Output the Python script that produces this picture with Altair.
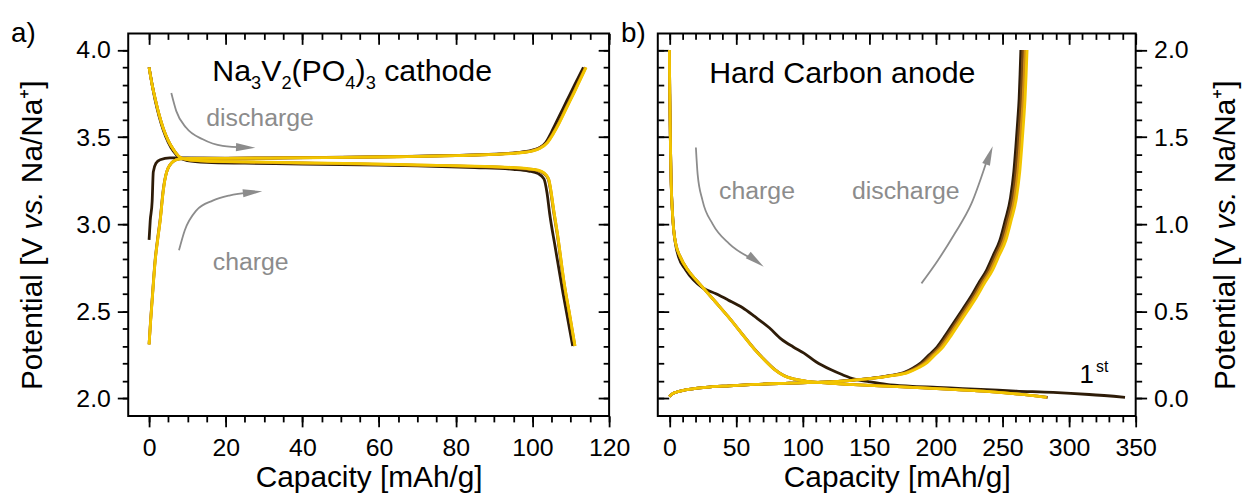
import altair as alt
import pandas as pd

FONT = "Liberation Sans"
GRAY = "#8c8c8c"
CYCLE_COLORS = ["#2e1c08", "#7a4b12", "#d08c14", "#f2c500"]

# ---------------- a) Na3V2(PO4)3 cathode ----------------
cat1_chg_x = [0, 0.3, 0.8, 1.1, 1.8, 2.9, 5.4, 10, 20, 35, 50, 65, 80, 90, 96, 100, 102, 103.5, 105, 107, 109, 111, 113.3]
cat1_chg_y = [2.91, 3.02, 3.13, 3.30, 3.35, 3.37, 3.38, 3.38, 3.378, 3.38, 3.383, 3.388, 3.395, 3.402, 3.41, 3.425, 3.44, 3.47, 3.53, 3.62, 3.71, 3.80, 3.90]
cat1_dis_x = [0, 0.8, 1.6, 2.6, 3.7, 5, 6.3, 8, 10, 15, 25, 40, 55, 70, 85, 95, 99, 101.5, 103, 103.8, 104.5, 106, 108, 110.5]
cat1_dis_y = [3.90, 3.80, 3.71, 3.62, 3.54, 3.47, 3.42, 3.38, 3.365, 3.355, 3.35, 3.345, 3.34, 3.335, 3.325, 3.315, 3.305, 3.29, 3.26, 3.18, 3.06, 2.86, 2.60, 2.30]

cat2_chg_x = [0, 0.4, 0.8, 1.6, 2.3, 2.9, 3.7, 4.6, 6.3, 8, 10, 20, 35, 50, 65, 80, 90, 96, 100, 102, 103.8, 105.3, 106.8, 108.8, 110.8, 112.3, 113.8]
cat2_chg_y = [2.31, 2.45, 2.57, 2.80, 2.93, 3.03, 3.20, 3.30, 3.36, 3.375, 3.378, 3.379, 3.381, 3.384, 3.388, 3.394, 3.401, 3.41, 3.422, 3.44, 3.47, 3.52, 3.58, 3.67, 3.76, 3.83, 3.90]
cat2_dis_x = [0, 0.8, 1.6, 2.6, 3.7, 5, 6.3, 8, 10, 15, 25, 40, 55, 70, 85, 95, 99, 101.5, 103, 104.1, 105.6, 106.4, 108.2, 109.7, 111.0]
cat2_dis_y = [3.90, 3.80, 3.72, 3.63, 3.55, 3.48, 3.43, 3.385, 3.37, 3.361, 3.356, 3.35, 3.345, 3.338, 3.331, 3.322, 3.315, 3.306, 3.29, 3.26, 3.06, 2.95, 2.66, 2.47, 2.30]

cat3_chg_x = [0, 0.4, 0.8, 1.6, 2.3, 2.9, 3.7, 4.6, 6.3, 8, 10, 20, 35, 50, 65, 80, 90, 96, 100, 102, 103.9, 105.4, 106.9, 108.9, 110.9, 112.4, 113.9]
cat3_chg_y = [2.31, 2.44, 2.56, 2.79, 2.92, 3.02, 3.19, 3.30, 3.36, 3.375, 3.378, 3.378, 3.38, 3.383, 3.387, 3.393, 3.40, 3.409, 3.421, 3.437, 3.47, 3.52, 3.58, 3.67, 3.76, 3.83, 3.90]
cat3_dis_x = [0, 0.8, 1.6, 2.6, 3.7, 5, 6.3, 8, 10, 15, 25, 40, 55, 70, 85, 95, 99, 101.5, 103, 104.2, 105.7, 106.5, 108.3, 109.8, 111.1]
cat3_dis_y = [3.90, 3.80, 3.72, 3.63, 3.55, 3.48, 3.43, 3.385, 3.37, 3.362, 3.357, 3.351, 3.346, 3.339, 3.332, 3.324, 3.317, 3.308, 3.293, 3.26, 3.06, 2.95, 2.66, 2.47, 2.30]

cat4_chg_x = [0, 0.4, 0.8, 1.6, 2.3, 2.9, 3.7, 4.6, 6.3, 8, 10, 20, 35, 50, 65, 80, 90, 96, 100, 102, 104, 105.5, 107, 109, 111, 112.5, 114]
cat4_chg_y = [2.31, 2.44, 2.56, 2.79, 2.92, 3.02, 3.19, 3.30, 3.36, 3.375, 3.378, 3.378, 3.38, 3.383, 3.387, 3.393, 3.40, 3.408, 3.42, 3.435, 3.47, 3.52, 3.58, 3.67, 3.76, 3.83, 3.90]
cat4_dis_x = [0, 0.8, 1.6, 2.6, 3.7, 5, 6.3, 8, 10, 15, 25, 40, 55, 70, 85, 95, 99, 101.5, 103, 104.2, 105.7, 106.5, 108.3, 109.8, 111.1]
cat4_dis_y = [3.90, 3.80, 3.72, 3.63, 3.55, 3.48, 3.43, 3.385, 3.37, 3.362, 3.358, 3.352, 3.347, 3.34, 3.333, 3.325, 3.318, 3.31, 3.295, 3.26, 3.06, 2.95, 2.66, 2.47, 2.30]

# ---------------- b) Hard carbon anode ----------------
an1_chg_x = [0, 0.3, 0.7, 1.3, 2.2, 3.2, 4.5, 7, 12, 18, 25, 35, 44, 55, 64, 75, 84, 93, 101, 110, 121, 130, 139, 150, 163, 180, 201, 220, 238, 260, 288, 315, 342]
an1_chg_y = [2.0, 1.75, 1.5, 1.25, 1.08, 0.97, 0.89, 0.81, 0.74, 0.68, 0.635, 0.6, 0.565, 0.52, 0.47, 0.405, 0.34, 0.295, 0.26, 0.21, 0.165, 0.135, 0.11, 0.095, 0.08, 0.07, 0.063, 0.056, 0.05, 0.042, 0.034, 0.022, 0.006]
an1_dis_x = [0, 2, 5, 12, 27, 45, 64, 90, 114, 135, 151, 165, 176, 183, 189, 195, 201, 207, 213, 220, 226, 232, 238, 243, 248, 252, 256, 258.5, 260, 261.5, 262.5, 263.2, 263.8]
an1_dis_y = [0.01, 0.025, 0.035, 0.048, 0.063, 0.072, 0.08, 0.087, 0.093, 0.102, 0.114, 0.13, 0.148, 0.175, 0.205, 0.25, 0.296, 0.36, 0.43, 0.51, 0.58, 0.66, 0.735, 0.82, 0.906, 1.02, 1.15, 1.3, 1.44, 1.6, 1.72, 1.86, 2.0]

an2_chg_x = [0, 0.3, 0.7, 1.3, 2.2, 3.2, 5, 8, 14, 20, 27, 35, 44, 54, 64, 72, 79, 86, 94, 104, 114, 130, 150, 163, 190, 215, 238, 260, 284]
an2_chg_y = [2.0, 1.75, 1.5, 1.25, 1.08, 0.97, 0.88, 0.815, 0.735, 0.68, 0.62, 0.55, 0.47, 0.376, 0.282, 0.217, 0.166, 0.131, 0.11, 0.097, 0.09, 0.082, 0.075, 0.07, 0.06, 0.05, 0.04, 0.026, 0.006]
an2_dis_x = [0, 2, 5, 12, 27, 45, 64, 90, 114, 135, 151.5, 165.5, 177, 184.5, 190.5, 196.5, 202.5, 208.5, 214.5, 221.5, 227.5, 233.5, 239.5, 244.5, 249.5, 253.5, 257.5, 260, 261.5, 263, 264, 264.7, 265.3]
an2_dis_y = [0.01, 0.025, 0.035, 0.048, 0.063, 0.072, 0.08, 0.087, 0.093, 0.102, 0.114, 0.13, 0.148, 0.175, 0.205, 0.25, 0.296, 0.36, 0.43, 0.51, 0.58, 0.66, 0.735, 0.82, 0.906, 1.02, 1.15, 1.3, 1.44, 1.6, 1.72, 1.86, 2.0]

an3_chg_x = [0, 0.3, 0.7, 1.3, 2.2, 3.2, 5, 8, 14, 20, 27, 35, 44, 54, 64, 72, 79, 86, 94, 104, 114, 130, 150, 163, 190, 215, 238, 260, 283.5]
an3_chg_y = [2.0, 1.75, 1.5, 1.25, 1.08, 0.97, 0.88, 0.815, 0.735, 0.68, 0.62, 0.55, 0.47, 0.375, 0.281, 0.216, 0.165, 0.13, 0.11, 0.097, 0.09, 0.082, 0.075, 0.07, 0.06, 0.05, 0.04, 0.026, 0.006]
an3_dis_x = [0, 2, 5, 12, 27, 45, 64, 90, 114, 135, 152, 166.5, 178, 186, 192, 198, 204, 210, 216, 223, 229, 235, 241, 246, 251, 255, 259, 261.5, 263, 264.5, 265.5, 266.3, 267]
an3_dis_y = [0.01, 0.025, 0.035, 0.048, 0.063, 0.072, 0.08, 0.087, 0.093, 0.102, 0.114, 0.13, 0.148, 0.175, 0.205, 0.25, 0.296, 0.36, 0.43, 0.51, 0.58, 0.66, 0.735, 0.82, 0.906, 1.02, 1.15, 1.3, 1.44, 1.6, 1.72, 1.86, 2.0]

an4_chg_x = [0, 0.3, 0.7, 1.3, 2.2, 3.2, 5, 8, 14, 20, 27, 35, 44, 54, 64, 72, 79, 86, 94, 104, 114, 130, 150, 163, 190, 215, 238, 260, 283]
an4_chg_y = [2.0, 1.75, 1.5, 1.25, 1.08, 0.97, 0.88, 0.815, 0.735, 0.68, 0.62, 0.55, 0.47, 0.375, 0.28, 0.215, 0.165, 0.13, 0.11, 0.097, 0.09, 0.082, 0.075, 0.07, 0.06, 0.05, 0.04, 0.026, 0.006]
an4_dis_x = [0, 2, 5, 12, 27, 45, 64, 90, 114, 135, 152, 167, 179, 187, 193.5, 199.5, 205.5, 211.5, 217.5, 224.5, 230.5, 236.5, 242.5, 247.5, 252.5, 256.5, 260.5, 263, 264.5, 266, 267, 267.8, 268.5]
an4_dis_y = [0.01, 0.025, 0.035, 0.048, 0.063, 0.072, 0.08, 0.087, 0.093, 0.102, 0.114, 0.13, 0.148, 0.175, 0.205, 0.25, 0.296, 0.36, 0.43, 0.51, 0.58, 0.66, 0.735, 0.82, 0.906, 1.02, 1.15, 1.3, 1.44, 1.6, 1.72, 1.86, 2.0]

# ---------------- annotation arrows ----------------
arr_a_dis_x = [5.8, 7.1, 9.7, 14.0, 19.2, 25.0]
arr_a_dis_y = [3.753, 3.649, 3.553, 3.487, 3.449, 3.440]
arr_a_chg_x = [7.8, 9.3, 12.3, 16.6, 20.9, 26.5]
arr_a_chg_y = [2.85, 2.964, 3.078, 3.135, 3.164, 3.182]
arr_b_chg_x = [19.9, 21.2, 24.9, 32.4, 44.8, 64.0]
arr_b_chg_y = [1.44, 1.287, 1.135, 1.002, 0.888, 0.795]
arr_b_dis_x = [189.2, 201.6, 214.1, 226.6, 239.8]
arr_b_dis_y = [0.66, 0.793, 0.945, 1.116, 1.40]

# cathode title pieces: (text, is_subscript)
cathode_title = [("Na", False), ("3", True), ("V", False), ("2", True), ("(PO", False),
                 ("4", True), (")", False), ("3", True), ("cathode", False)]

# ticks
a_x_major = [0, 20, 40, 60, 80, 100, 120]
a_x_minor = [0, 5, 10, 15, 20, 25, 30, 35, 40, 45, 50, 55, 60, 65, 70, 75, 80, 85, 90, 95, 100, 105, 110, 115, 120]
a_y_major = [2.0, 2.5, 3.0, 3.5, 4.0]
a_y_minor = [2.0, 2.1, 2.2, 2.3, 2.4, 2.5, 2.6, 2.7, 2.8, 2.9, 3.0, 3.1, 3.2, 3.3, 3.4, 3.5, 3.6, 3.7, 3.8, 3.9, 4.0]
b_x_major = [0, 50, 100, 150, 200, 250, 300, 350]
b_x_minor = [0, 10, 20, 30, 40, 50, 60, 70, 80, 90, 100, 110, 120, 130, 140, 150, 160, 170, 180, 190, 200,
             210, 220, 230, 240, 250, 260, 270, 280, 290, 300, 310, 320, 330, 340, 350]
b_y_major = [0.0, 0.5, 1.0, 1.5, 2.0]
b_y_minor = [0.0, 0.1, 0.2, 0.3, 0.4, 0.5, 0.6, 0.7, 0.8, 0.9, 1.0, 1.1, 1.2, 1.3, 1.4, 1.5, 1.6, 1.7, 1.8, 1.9, 2.0]

W_A, W_B, H = 484, 481, 385
MAJ, MIN = 11, 6
TITLE_FS = 30.5
SUB_FS = 18.3


def frame_of(pairs):
    rows = []
    for seg, xs, ys in pairs:
        for i, (a, b) in enumerate(zip(xs, ys)):
            rows.append({"seg": seg, "i": i, "x": a, "y": b})
    return pd.DataFrame(rows)


def axis_main(orient, values, title=None, fmt=None, pad=7):
    kw = dict(orient=orient, values=values, tickSize=MAJ, tickWidth=1.8, tickColor="black",
              domain=False, grid=False, labelFont=FONT, labelFontSize=25, labelColor="black",
              labelPadding=pad, labelOverlap=False, labelFlush=False)
    if fmt:
        kw["format"] = fmt
    if title:
        kw.update(title=title, titleFont=FONT, titleFontSize=30, titleFontWeight="normal",
                  titleColor="black", titlePadding=2)
    else:
        kw["title"] = None
    return alt.Axis(**kw)


def axis_plain(orient, values, size, offset=0):
    kw = dict(orient=orient, values=values, tickSize=size, tickWidth=1.8, tickColor="black",
              domain=False, grid=False, labels=False, title=None)
    if offset:
        kw["offset"] = offset
    return alt.Axis(**kw)


def panel(cycles, xs, ys, xmaj, xmin, ymaj, ymin, ylab_orient, y_other, width, extra):
    axes = [
        (axis_main("bottom", xmaj, "Capacity [mAh/g]", pad=9), axis_main(ylab_orient, ymaj, fmt=".1f")),
        (axis_plain("bottom", xmin, MIN), axis_plain(ylab_orient, ymin, MIN)),
        (axis_plain("top", xmaj, MAJ, -MAJ), axis_plain(y_other, ymaj, MAJ, -MAJ)),
        (axis_plain("top", xmin, MIN, -MIN), axis_plain(y_other, ymin, MIN, -MIN)),
    ]
    layers = []
    for k, (df, col) in enumerate(zip(cycles, CYCLE_COLORS)):
        xa, ya = axes[k]
        layers.append(
            alt.Chart(df).mark_line(color=col, strokeWidth=2.8, interpolate="monotone").encode(
                x=alt.X("x:Q", scale=xs, axis=xa),
                y=alt.Y("y:Q", scale=ys, axis=ya),
                detail="seg:N",
                order="i:Q",
            )
        )
    layers += extra
    return alt.layer(*layers).resolve_axis(x="independent", y="independent").properties(width=width, height=H)


def xy(xs, ys):
    return dict(x=alt.X("x:Q", scale=xs, axis=None), y=alt.Y("y:Q", scale=ys, axis=None))


def arrow(xv, yv, hx, hy, ang, xs, ys):
    line = alt.Chart(pd.DataFrame({"x": xv, "y": yv, "i": list(range(len(xv)))})).mark_line(
        color=GRAY, strokeWidth=1.8, interpolate="monotone").encode(order="i:Q", **xy(xs, ys))
    head = alt.Chart(pd.DataFrame({"x": [hx], "y": [hy]})).mark_point(
        shape="M0,-1L0.42,1L-0.42,1Z", filled=True, size=380, color=GRAY, opacity=1, angle=ang
    ).encode(**xy(xs, ys))
    return [line, head]


def label(txt, x, y, xs, ys, size, color, align="left", dx=0, dy=0):
    kw = dict(font=FONT, fontSize=size, color=color, align=align, baseline="alphabetic")
    if dx:
        kw["dx"] = dx
    if dy:
        kw["dy"] = dy
    return alt.Chart(pd.DataFrame({"x": [x], "y": [y], "t": [txt]})).mark_text(**kw).encode(
        text="t:N", **xy(xs, ys))


def pixel_text(txt, px, py, size, italic=False, angle=0, align="left"):
    kw = dict(font=FONT, fontSize=size, color="black", align=align, baseline="alphabetic")
    if italic:
        kw["fontStyle"] = "italic"
    if angle:
        kw["angle"] = angle
    return alt.Chart(pd.DataFrame({"t": [txt]})).mark_text(**kw).encode(
        text="t:N", x=alt.value(px), y=alt.value(py))


def ytitle(px):
    # "Potential [V vs. Na/Na+]" with italic "vs.", reading bottom to top
    return [
        pixel_text("Potential [V", px, 359, 30, angle=270),
        pixel_text("vs.", px, 197.3, 30, italic=True, angle=270),
        pixel_text("Na/Na\u207a]", px, 150.7, 30, angle=270),
    ]


def cathode_title_layers(x, y, xs, ys):
    # horizontal offsets (px) of each piece, from Arial-like advance widths
    offsets = [0, 39.0, 49.2, 69.5, 79.7, 133.9, 144.1, 154.3, 173.0]
    out = []
    for (txt, sub), off in zip(cathode_title, offsets):
        out.append(label(txt, x, y, xs, ys, SUB_FS if sub else TITLE_FS, "black",
                         dx=off, dy=(8 if sub else 0)))
    return out


# ----- panel a -----
xs_a = alt.Scale(domain=[-5.44, 120], nice=False, zero=False)
ys_a = alt.Scale(domain=[1.899, 4.095], nice=False, zero=False)
cyc_a = [
    frame_of([("c", cat1_chg_x, cat1_chg_y), ("d", cat1_dis_x, cat1_dis_y)]),
    frame_of([("c", cat2_chg_x, cat2_chg_y), ("d", cat2_dis_x, cat2_dis_y)]),
    frame_of([("c", cat3_chg_x, cat3_chg_y), ("d", cat3_dis_x, cat3_dis_y)]),
    frame_of([("c", cat4_chg_x, cat4_chg_y), ("d", cat4_dis_x, cat4_dis_y)]),
]
extra_a = []
extra_a += arrow(arr_a_dis_x, arr_a_dis_y, 25.2, 3.440, 92, xs_a, ys_a)
extra_a += arrow(arr_a_chg_x, arr_a_chg_y, 27.0, 3.183, 84, xs_a, ys_a)
extra_a += cathode_title_layers(16.5, 3.82, xs_a, ys_a)
extra_a += [
    label("discharge", 14.9, 3.565, xs_a, ys_a, 25, GRAY),
    label("charge", 16.6, 2.736, xs_a, ys_a, 25, GRAY),
    pixel_text("a)", -118, 9, 28),
]
extra_a += ytitle(-87)
left = panel(cyc_a, xs_a, ys_a, a_x_major, a_x_minor, a_y_major, a_y_minor, "left", "right", W_A, extra_a)

# ----- panel b -----
xs_b = alt.Scale(domain=[-8.7, 350], nice=False, zero=False)
ys_b = alt.Scale(domain=[-0.101, 2.095], nice=False, zero=False)
cyc_b = [
    frame_of([("c", an1_chg_x, an1_chg_y), ("d", an1_dis_x, an1_dis_y)]),
    frame_of([("c", an2_chg_x, an2_chg_y), ("d", an2_dis_x, an2_dis_y)]),
    frame_of([("c", an3_chg_x, an3_chg_y), ("d", an3_dis_x, an3_dis_y)]),
    frame_of([("c", an4_chg_x, an4_chg_y), ("d", an4_dis_x, an4_dis_y)]),
]
extra_b = []
extra_b += arrow(arr_b_chg_x, arr_b_chg_y, 65.0, 0.789, 127, xs_b, ys_b)
extra_b += arrow(arr_b_dis_x, arr_b_dis_y, 240.2, 1.395, 20, xs_b, ys_b)
extra_b += [
    label("Hard Carbon anode", 29.9, 1.81, xs_b, ys_b, TITLE_FS, "black"),
    label("charge", 37.3, 1.145, xs_b, ys_b, 25, GRAY),
    label("discharge", 137.0, 1.145, xs_b, ys_b, 25, GRAY),
    label("1", 318.7, 0.09, xs_b, ys_b, 26, "black", align="right"),
    label("st", 320.2, 0.09, xs_b, ys_b, 16, "black", dy=-11),
    pixel_text("b)", -37, 9, 28),
]
extra_b += ytitle(581)
right = panel(cyc_b, xs_b, ys_b, b_x_major, b_x_minor, b_y_major, b_y_minor, "right", "left", W_B, extra_b)

chart = alt.hconcat(left, right, spacing=49).properties(
    bounds="flush", padding={"left": 2, "top": 10, "right": 0, "bottom": 0}
).configure_view(stroke="black", strokeWidth=2)

chart.save("out.html", embed_options={"renderer": "svg", "actions": False})
